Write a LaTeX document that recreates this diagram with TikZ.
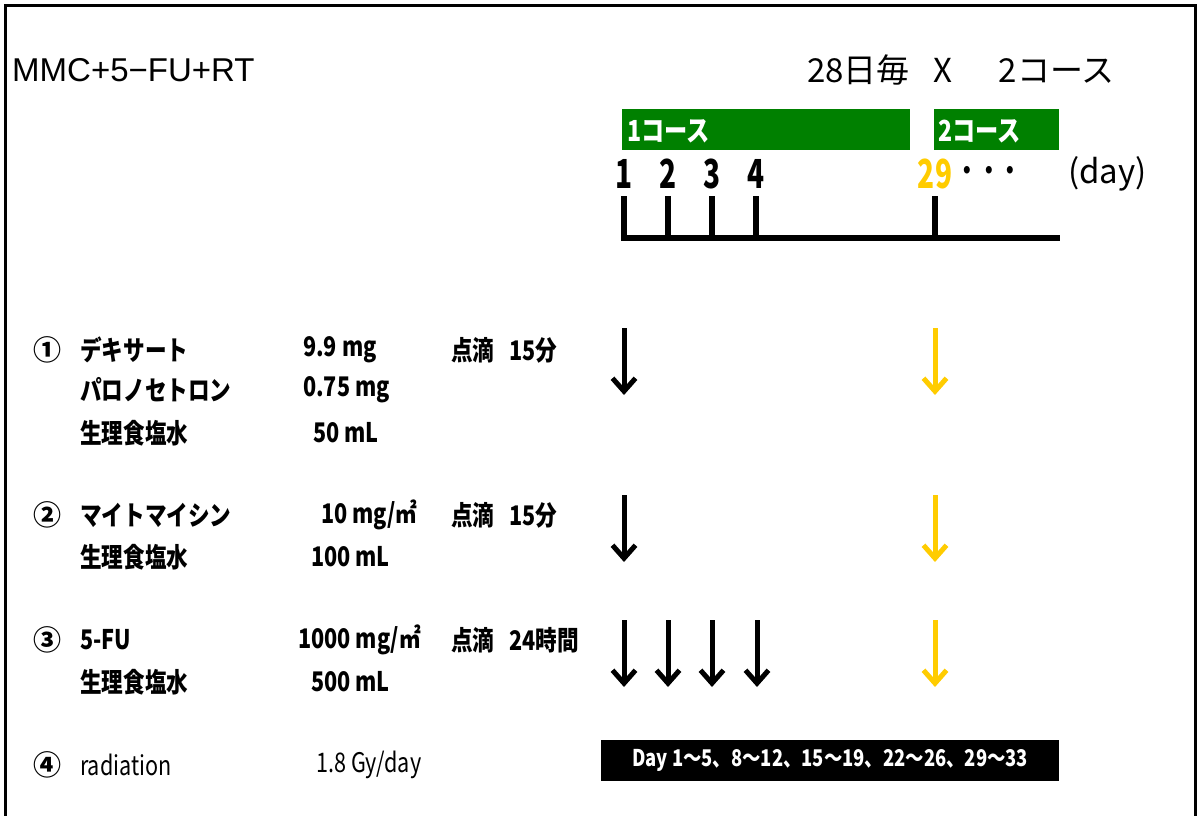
\documentclass[tikz,border=0pt]{standalone}
\usepackage{fontspec}
\setmainfont{Noto Sans CJK JP}
\newfontfamily\jpc[FakeStretch=0.8]{Noto Sans CJK JP}
\newfontfamily\jpn[FakeStretch=0.7]{Noto Sans CJK JP}
\newfontfamily\latin{Liberation Sans}
\usetikzlibrary{arrows.meta}
\definecolor{gold}{HTML}{FFCC00}
\definecolor{dkgreen}{HTML}{008000}
\tikzset{
  txt/.style={anchor=west, inner sep=0pt, font=\jpc\bfseries\fontsize{27}{27}\selectfont},
  val/.style={anchor=west, inner sep=0pt, font=\jpc\bfseries\fontsize{27}{27}\selectfont},
  plain/.style={anchor=west, inner sep=0pt, font=\jpc\fontsize{27}{27}\selectfont},
  circ/.style={anchor=west, inner sep=0pt, font=\bfseries\fontsize{28}{28}\selectfont},
  lbl/.style={anchor=west, inner sep=0pt, font=\fontsize{33}{33}\selectfont},
  daynum/.style={inner sep=0pt, font=\jpn\bfseries\fontsize{40}{40}\selectfont},
  course/.style={fill=dkgreen, draw=none},
  coursetxt/.style={anchor=west, inner sep=0pt, text=white, font=\jpc\bfseries\fontsize{29}{29}\selectfont},
  axis/.style={line width=5.5pt},
  dose/.style={line width=5pt, -{Straight Barb[length=13pt,width=23pt]}},
  dosey/.style={dose, draw=gold}
}
\begin{document}
\begin{tikzpicture}[x=1pt,y=-1pt]
\useasboundingbox (0,0) rectangle (1197,816);
\fill[white] (0,0) rectangle (1197,816);
\draw[line width=3pt] (5.5,816) -- (5.5,5.5) -- (1195.5,5.5) -- (1195.5,816);

% titles
\node[lbl, font=\latin\fontsize{33}{33}\selectfont] (title) at (12,70) {MMC+5−FU+RT};
\node[lbl] (cycle) at (807,70) {28日毎\hspace{24pt}X\hspace{46pt}2コース};

% course bars
\fill[course] (622,109) rectangle (910,150);
\node[coursetxt] (c1) at (627,131) {1コース};
\fill[course] (934,109) rectangle (1059,150);
\node[coursetxt] (c2) at (938,131) {2コース};

% day numbers
\node[daynum] (d1) at (624,174) {1};
\node[daynum] (d2) at (668,174) {2};
\node[daynum] (d3) at (712,174) {3};
\node[daynum] (d4) at (756,174) {4};
\node[daynum, text=gold] (d29) at (935,174) {29};
\node[daynum, font=\jpc\bfseries\fontsize{27}{27}\selectfont] (dots) at (989,173) {・・・};
\node[anchor=west, inner sep=0pt, font=\fontsize{33}{33}\selectfont] (dayu) at (1068,174) {(day)};

% axis
\coordinate (a0) at (621,238);
\coordinate (a1) at (1060,238);
\draw[axis] (a0) -- (a1);
\foreach \x in {624,668,712,756,935}
  \draw[axis] (\x,196) -- (\x,238);

% row 1
\node[circ] (n1) at (33,350) {①};
\node[txt] (r1a) at (80,350) {デキサート};
\node[val] (v1a) at (303,350) {9.9 mg};
\node[txt] (m1) at (451,350) {点滴\ \ \ 15分};
\node[txt] (r1b) at (80,390) {パロノセトロン};
\node[val] (v1b) at (303,390) {0.75 mg};
\node[txt] (r1c) at (80,433) {生理食塩水};
\node[val] (v1c) at (313,433) {50 mL};

% row 2
\node[circ] (n2) at (33,515) {②};
\node[txt] (r2a) at (80,515) {マイトマイシン};
\node[val] (v2a) at (321,515) {10 mg/㎡};
\node[txt] (m2) at (451,515) {点滴\ \ \ 15分};
\node[txt] (r2b) at (80,557) {生理食塩水};
\node[val] (v2b) at (311,557) {100 mL};

% row 3
\node[circ] (n3) at (33,640) {③};
\node[val] (r3a) at (80,640) {5-FU};
\node[val] (v3a) at (298,640) {1000 mg/㎡};
\node[txt] (m3) at (451,640) {点滴\ \ \ 24時間};
\node[txt] (r3b) at (80,682) {生理食塩水};
\node[val] (v3b) at (311,682) {500 mL};

% row 4
\node[circ] (n4) at (33,765) {④};
\node[plain] (r4a) at (80,765) {radiation};
\node[plain] (v4a) at (316,765) {1.8 Gy/day};

% arrows
\coordinate (s1) at (624,328); \coordinate (e1) at (624,395);
\coordinate (s1y) at (935,328); \coordinate (e1y) at (935,395);
\draw[dose] (s1) -- (e1);
\draw[dosey] (s1y) -- (e1y);
\coordinate (s2) at (624,495); \coordinate (e2) at (624,562);
\coordinate (s2y) at (935,495); \coordinate (e2y) at (935,562);
\draw[dose] (s2) -- (e2);
\draw[dosey] (s2y) -- (e2y);
\foreach \x/\n in {624/a,668/b,712/c,757/d}{
  \coordinate (s3\n) at (\x,620); \coordinate (e3\n) at (\x,687);
  \draw[dose] (s3\n) -- (e3\n);
}
\coordinate (s3y) at (935,620); \coordinate (e3y) at (935,687);
\draw[dosey] (s3y) -- (e3y);

% radiation bar
\node[fill=black, text=white, minimum width=458pt, minimum height=41pt, inner sep=0pt,
      anchor=north west, font=\jpc\bfseries\fontsize{23}{23}\selectfont] (rad) at (601,740)
  {Day 1～5、8～12、15～19、22～26、29～33};
\end{tikzpicture}
\end{document}
